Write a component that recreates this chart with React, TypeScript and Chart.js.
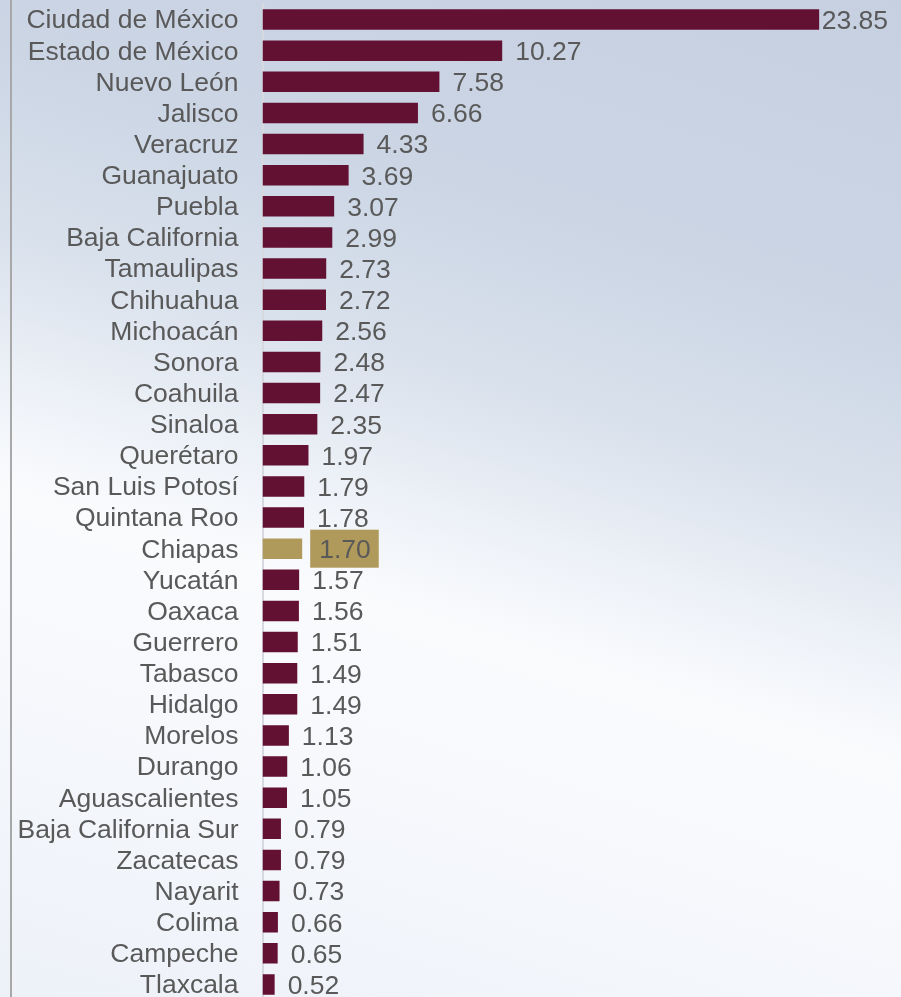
import React, { useEffect, useRef } from 'react';
import { Chart, registerables } from 'chart.js';

Chart.register(...registerables);

const states: string[] = [
  'Ciudad de México', 'Estado de México', 'Nuevo León', 'Jalisco', 'Veracruz',
  'Guanajuato', 'Puebla', 'Baja California', 'Tamaulipas', 'Chihuahua',
  'Michoacán', 'Sonora', 'Coahuila', 'Sinaloa', 'Querétaro',
  'San Luis Potosí', 'Quintana Roo', 'Chiapas', 'Yucatán', 'Oaxaca',
  'Guerrero', 'Tabasco', 'Hidalgo', 'Morelos', 'Durango',
  'Aguascalientes', 'Baja California Sur', 'Zacatecas', 'Nayarit', 'Colima',
  'Campeche', 'Tlaxcala',
];

const values: number[] = [
  23.85, 10.27, 7.58, 6.66, 4.33,
  3.69, 3.07, 2.99, 2.73, 2.72,
  2.56, 2.48, 2.47, 2.35, 1.97,
  1.79, 1.78, 1.70, 1.57, 1.56,
  1.51, 1.49, 1.49, 1.13, 1.06,
  1.05, 0.79, 0.79, 0.73, 0.66,
  0.65, 0.52,
];

const highlighted = 'Chiapas';
const maroon = '#621132';
const gold = '#b09a5b';
const textGray = '#595959';
const FONT = '"Liberation Sans", Arial, Helvetica, sans-serif';
const FONT_SIZE = 26.5;

export default function App() {
  const canvasRef = useRef<HTMLCanvasElement | null>(null);

  useEffect(() => {
    const canvas = canvasRef.current;
    if (!canvas) return;

    const framePlugin = {
      id: 'frameLine',
      beforeDraw(chart: any) {
        const ctx = chart.ctx;
        ctx.save();
        ctx.fillStyle = '#a8a8a8';
        ctx.fillRect(10, 0, 2, chart.height);
        ctx.restore();
      },
    };

    const valueLabelPlugin = {
      id: 'valueLabels',
      afterDatasetsDraw(chart: any) {
        const ctx = chart.ctx;
        const meta = chart.getDatasetMeta(0);
        ctx.save();
        ctx.font = `${FONT_SIZE}px ${FONT}`;
        ctx.textBaseline = 'middle';
        ctx.textAlign = 'left';
        meta.data.forEach((bar: any, i: number) => {
          const txt = values[i].toFixed(2);
          const w = ctx.measureText(txt).width;
          const end = bar.x;
          const y = bar.y;
          if (states[i] === highlighted) {
            const bx = end + 8;
            const bw = w + 17;
            const bh = 38;
            ctx.fillStyle = gold;
            ctx.fillRect(bx, y - bh / 2, bw, bh);
            ctx.fillStyle = textGray;
            ctx.fillText(txt, bx + 9, y + 2);
          } else {
            let x = end + 13;
            const limit = chart.width - 13;
            if (x + w > limit) x = limit - w;
            ctx.fillStyle = textGray;
            ctx.fillText(txt, x, y + 2);
          }
        });
        ctx.restore();
      },
    };

    const chart = new Chart(canvas, {
      type: 'bar',
      data: {
        labels: states,
        datasets: [
          {
            data: values,
            backgroundColor: states.map((s) => (s === highlighted ? gold : maroon)),
            borderWidth: 0,
            barPercentage: 0.66,
            categoryPercentage: 1,
          },
        ],
      },
      options: {
        indexAxis: 'y',
        responsive: false,
        animation: false,
        layout: { padding: { top: 4, right: 55, bottom: 0, left: 0 } },
        plugins: {
          legend: { display: false },
          tooltip: { enabled: false },
        },
        scales: {
          x: {
            display: false,
            min: 0,
            max: 25,
            grid: { display: false },
          },
          y: {
            afterFit(scale: any) {
              scale.width = 262.5;
              scale.paddingTop = 0;
              scale.paddingBottom = 0;
            },
            grid: { display: false, drawTicks: false },
            border: { display: true, color: '#d6dae0', width: 2 },
            ticks: {
              autoSkip: false,
              color: textGray,
              padding: 24,
              labelOffset: 1.5,
              font: { family: FONT, size: FONT_SIZE },
            },
          },
        },
      },
      plugins: [framePlugin, valueLabelPlugin],
    } as any);

    return () => {
      chart.destroy();
    };
  }, []);

  return (
    <div
      style={{
        position: 'fixed',
        left: 0,
        top: 0,
        width: 901,
        height: 997,
        overflow: 'hidden',
        background:
          'linear-gradient(197deg, #c6d0e1 0%, #cbd5e4 25%, #d9e1ec 40%, #eef2f8 52%, #fafbfd 60%, #f6f8fc 75%, #edf1f8 100%)',
      }}
    >
      <canvas ref={canvasRef} width={901} height={1000} style={{ display: 'block' }} />
    </div>
  );
}
